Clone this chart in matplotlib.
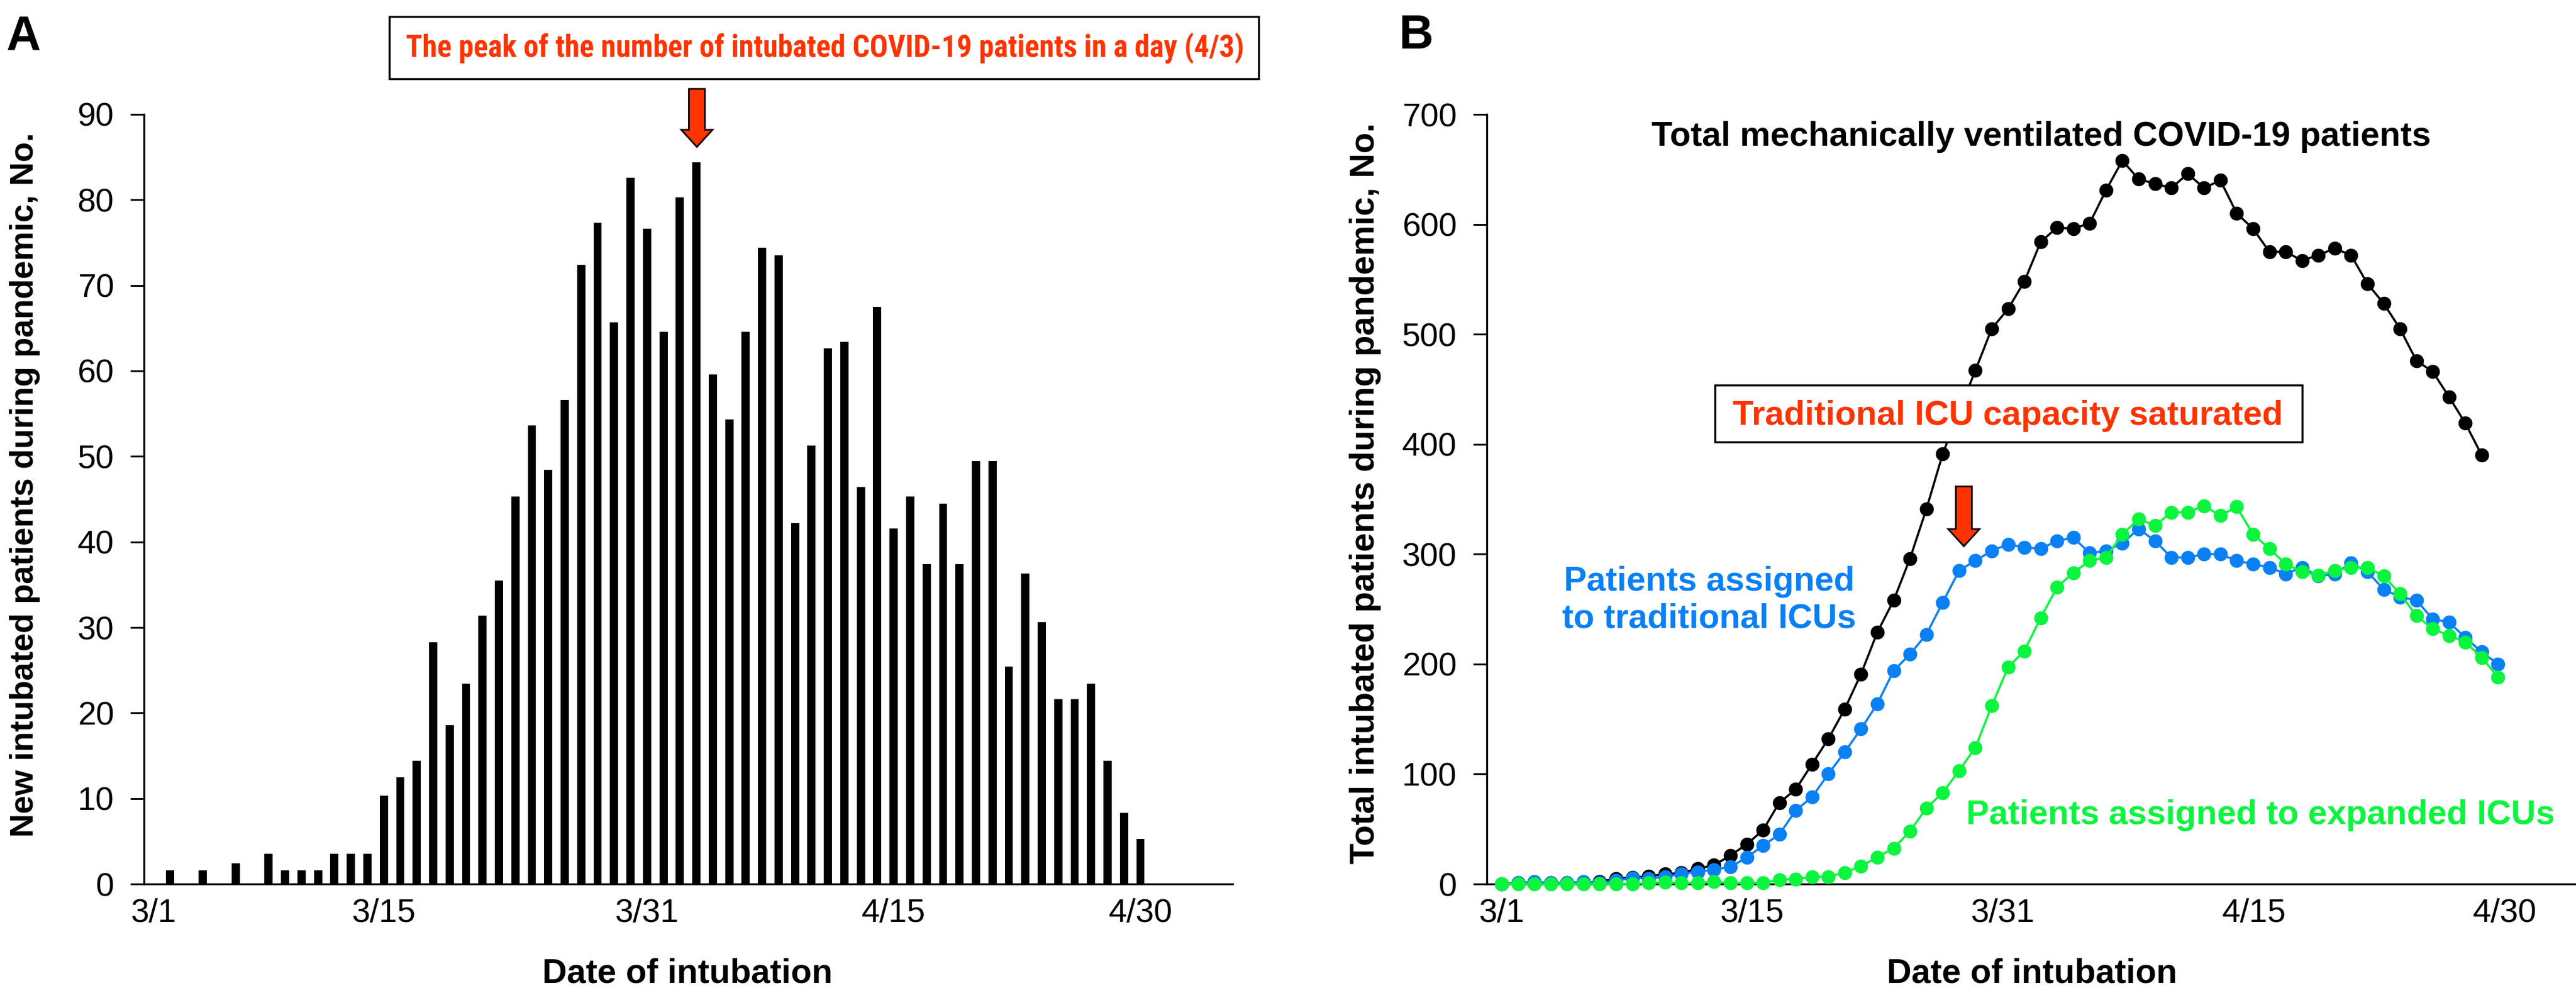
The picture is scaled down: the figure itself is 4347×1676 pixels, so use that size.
import numpy as np
import matplotlib
matplotlib.use('Agg')
import matplotlib.pyplot as plt
from matplotlib import font_manager
from matplotlib.patches import FancyArrow, Rectangle

installed = {f.name for f in font_manager.fontManager.ttflist}

def pick(*names):
    for n in names:
        if n in installed:
            return n
    return 'DejaVu Sans'

SANS = pick('Liberation Sans', 'Arial', 'DejaVu Sans')
NARROW = pick('Noto Sans ExtraCondensed', 'Liberation Sans Narrow', 'Arial Narrow',
              'Roboto Condensed', 'Noto Sans Condensed', 'Open Sans Condensed',
              'DejaVu Sans Condensed', SANS)
plt.rcParams['font.family'] = [SANS, 'DejaVu Sans']

RED = '#ff3300'
BLUE = '#0a80f5'
GREEN = '#0cf53e'

# panel A: new intubations per day, 3/1 .. 4/30
a_days = np.arange(61)
new_intubated = [0, 1.6, 0, 1.6, 0, 2.4, 0, 3.5, 1.6, 1.6,
                 1.6, 3.5, 3.5, 3.5, 10.3, 12.5, 14.4, 28.3, 18.6, 23.4,
                 31.4, 35.5, 45.3, 53.6, 48.4, 56.6, 72.4, 77.3, 65.7, 82.6,
                 76.6, 64.6, 80.3, 84.4, 59.6, 54.3, 64.6, 74.4, 73.5, 42.2,
                 51.3, 62.6, 63.4, 46.4, 67.5, 41.6, 45.3, 37.4, 44.5, 37.4,
                 49.5, 49.5, 25.4, 36.3, 30.6, 21.6, 21.6, 23.4, 14.4, 8.3,
                 5.3]
a_tick_pos = [0, 14, 30, 45, 60]
a_tick_labels = ['3/1', '3/15', '3/31', '4/15', '4/30']

# panel B: patients on ventilator
total_vent = [0, 1, 1, 1, 1, 1, 2, 5, 6, 7,
              9, 10, 14, 17, 26, 36, 49, 74, 86, 109,
              132, 159, 191, 229, 258, 296, 341, 391, 430, 467,
              505, 523, 548, 584, 597, 596, 601, 631, 658, 641,
              637, 633, 646, 633, 640, 610, 596, 575, 575, 567,
              572, 578, 572, 546, 528, 505, 476, 466, 443, 419,
              390]
traditional_icu = [0, 1, 2, 1, 1, 2, 1, 3, 5.6, 5,
                   6.5, 9, 11, 13, 15.5, 24, 35, 45, 67, 79,
                   100, 120, 141, 164, 194, 209, 227, 256, 285, 294,
                   303, 309, 306, 305, 312, 315, 301, 303, 310, 323,
                   312, 297, 297, 300, 300, 294, 291, 288, 282, 288,
                   280, 282, 292, 284, 268, 261, 258, 241, 238, 224,
                   211, 200]
expanded_icu = [0, 0, 0, 0, 0, 0, 0, 0, 0, 1,
                1.5, 1, 1, 2, 1, 1, 1, 4, 4.5, 6.5,
                6.5, 10.5, 16, 24.5, 32.5, 48, 69, 83, 103, 124,
                162, 197, 212, 242, 270, 283, 294, 297, 318, 332,
                326, 338, 338, 344, 335, 343, 318, 305, 291, 284,
                281, 285, 288, 288, 280, 264, 244, 232, 226, 220,
                206, 188]
b_tick_pos = [0, 15.35, 30.7, 46.05, 61.4]
b_tick_labels = ['3/1', '3/15', '3/31', '4/15', '4/30']

W, H = 4347, 1676
fig = plt.figure(figsize=(W / 100, H / 100), dpi=100)


def rect(x0, y0, x1, y1):
    # pixel box (top-left origin) -> figure fraction
    return [x0 / W, 1 - y1 / H, (x1 - x0) / W, (y1 - y0) / H]


def style_axes(ax):
    for s in ['top', 'right']:
        ax.spines[s].set_visible(False)
    for s in ['left', 'bottom']:
        ax.spines[s].set_linewidth(2.4)
    ax.tick_params(axis='y', direction='out', length=16.5, width=2.2,
                   pad=20, labelsize=40)
    ax.tick_params(axis='x', length=0, pad=17, labelsize=40)


# ---- A ----
axA = fig.add_axes(rect(243, 193, 2080, 1492))
axA.bar(a_days, new_intubated, width=0.5, color='black')
axA.set_xlim(-0.58, 65.6)
axA.set_ylim(0, 90)
axA.set_yticks(range(0, 91, 10))
axA.set_xticks(a_tick_pos, a_tick_labels)
style_axes(axA)

# ---- B ----
axB = fig.add_axes(rect(2509, 193, 4345, 1492))
line_kw = dict(lw=2.6, ms=16, clip_on=False)
axB.plot(np.arange(len(total_vent)), total_vent, '-o', color='black', zorder=3, **line_kw)
axB.plot(np.arange(len(traditional_icu)), traditional_icu, '-o', color=BLUE, zorder=4, **line_kw)
axB.plot(np.arange(len(expanded_icu)), expanded_icu, '-o', color=GREEN, zorder=5, **line_kw)
axB.set_xlim(-0.91, 65.7)
axB.set_ylim(0, 700)
axB.set_yticks(range(0, 701, 100))
axB.set_xticks(b_tick_pos, b_tick_labels)
style_axes(axB)


def px(x, y):
    return x / W, 1 - y / H


def box(x0, y0, x1, y1):
    # white-filled frame drawn over the axes
    r = Rectangle((x0 / 100, (H - y1) / 100), (x1 - x0) / 100, (y1 - y0) / 100,
                  transform=fig.dpi_scale_trans, fc='white', ec='black', lw=2.5,
                  zorder=5)
    fig.add_artist(r)


def down_arrow(x, y_top, y_tip):
    a = FancyArrow(x / 100, (H - y_top) / 100, 0, -(y_tip - y_top) / 100,
                   width=0.27, head_width=0.53, head_length=0.29,
                   length_includes_head=True, fc=RED, ec='black', lw=2,
                   transform=fig.dpi_scale_trans, zorder=5)
    fig.add_artist(a)


bold = dict(fontweight='bold', ha='center', zorder=6)

fig.text(*px(40, 62), 'A', fontsize=58, va='center', **bold)
fig.text(*px(2390, 61), 'B', fontsize=58, va='center', **bold)

box(657, 28, 2124, 133)
peak = fig.text(*px(1392, 95), 'The peak of the number of intubated COVID-19 patients in a day (4/3)',
                color=RED, fontsize=40, family=[NARROW, 'DejaVu Sans'], va='baseline', **bold)
# squeeze the header into the box width
fig.canvas.draw()
w = peak.get_window_extent().width
peak.set_fontsize(min(44, 40 * 1414 / w))
down_arrow(1176, 150, 248)

fig.text(*px(42, 818), 'New intubated patients during pandemic, No.',
         rotation=90, fontsize=40, va='center', **bold)
fig.text(*px(1160, 1658), 'Date of intubation', fontsize=41.5, va='baseline', **bold)

fig.text(*px(2304, 832), 'Total intubated patients during pandemic, No.',
         rotation=90, fontsize=41.5, va='center', **bold)
fig.text(*px(3429, 1658), 'Date of intubation', fontsize=41.5, va='baseline', **bold)

fig.text(*px(3445, 246), 'Total mechanically ventilated COVID-19 patients',
         fontsize=41.5, color='black', va='baseline', **bold)
box(2894, 650, 3885, 746)
fig.text(*px(3388, 717), 'Traditional ICU capacity saturated',
         fontsize=41.5, color=RED, va='baseline', **bold)
down_arrow(3314, 821, 922)
fig.text(*px(2884, 1013), 'Patients assigned\nto traditional ICUs',
         fontsize=41.5, color=BLUE, linespacing=1.2, multialignment='center',
         va='center', **bold)
fig.text(*px(3815, 1391), 'Patients assigned to expanded ICUs',
         fontsize=41.5, color=GREEN, va='baseline', **bold)

fig.savefig('out.png', dpi=100)
